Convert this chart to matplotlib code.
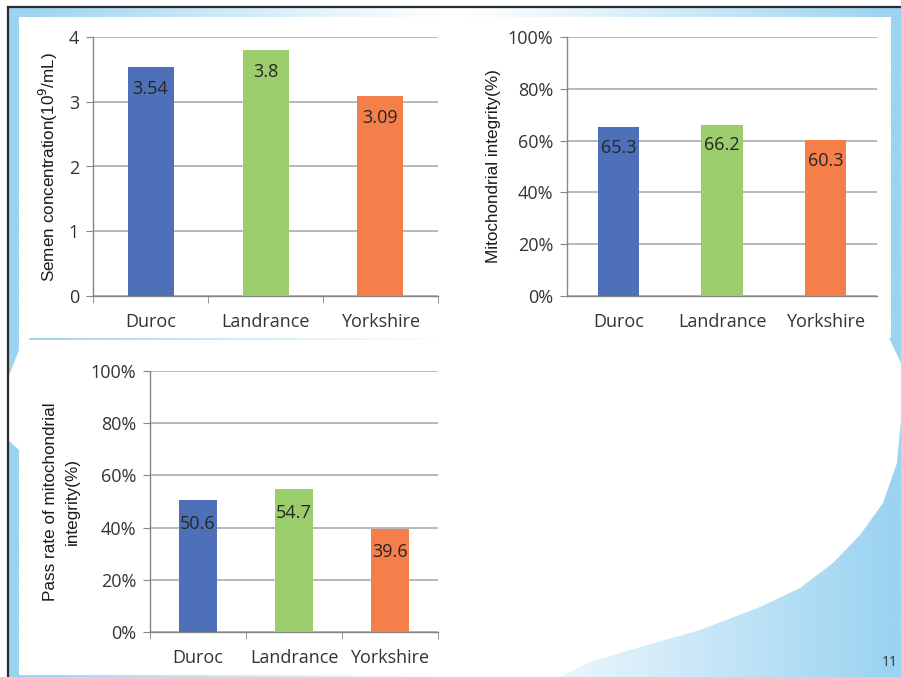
import numpy as np
import matplotlib
matplotlib.use("Agg")
import matplotlib.pyplot as plt
from matplotlib.patches import Rectangle, Polygon

# ---- data ----
breeds = ["Duroc", "Landrance", "Yorkshire"]
semen_conc = [3.54, 3.8, 3.09]
mito_integrity = [65.3, 66.2, 60.3]
pass_rate = [50.6, 54.7, 39.6]
conc_ticks = [0, 1, 2, 3, 4]
pct_ticks = [0, 20, 40, 60, 80, 100]
pct_labels = ["0%", "20%", "40%", "60%", "80%", "100%"]
bar_colors = ["#4e70b8", "#9ccd6c", "#f47f4b"]

W, H = 901, 677
fig = plt.figure(figsize=(W / 100, H / 100), dpi=100)
fig.patch.set_facecolor("white")

# ---- slide background ----
bg = fig.add_axes([0, 0, 1, 1], zorder=-10)
bg.set_xlim(0, W)
bg.set_ylim(H, 0)
bg.axis("off")
blue = np.array([155, 211, 241]) / 255.0
xs = np.arange(W)
t = np.clip(np.abs(xs - 450) / 440.0, 0, 1) ** 1.1
row = (1 - t)[:, None] * np.ones(3) + t[:, None] * blue
img = np.repeat(row[None, :, :], 2, axis=0)
bg.imshow(img, extent=(8, W, H, 7), aspect="auto", zorder=0)
# white chart boxes
for (x0, y0, x1, y1) in [(19, 17, 450, 338), (450, 17, 891, 338), (19, 340, 450, 675)]:
    bg.add_patch(Rectangle((x0, y0), x1 - x0, y1 - y0, facecolor="white",
                           edgecolor="none", zorder=1))
# decorative white areas
bg.add_patch(Polygon([(8, 378), (19, 350), (30, 338), (19, 338), (19, 450), (8, 440)],
                     closed=True, facecolor="white", edgecolor="none", zorder=1))
bg.add_patch(Rectangle((8, 378), 11, 62, facecolor="white", edgecolor="none", zorder=1))
shape = [(440, 338), (889, 338), (901, 363), (901, 420), (897, 463), (883, 503),
         (860, 535), (833, 563), (800, 588), (760, 607), (700, 630), (623, 652),
         (590, 662), (560, 677), (440, 677)]
bg.add_patch(Polygon(shape, closed=True, facecolor="white", edgecolor="none", zorder=1))
# slide borders
bg.plot([8, 8], [7, H], color="#2b2b2b", lw=1.6, zorder=3)
bg.plot([8, W], [7, 7], color="#2b2b2b", lw=1.6, zorder=3)
bg.text(890, 663, "11", fontsize=10, family="Open Sans", color="#333333",
        ha="center", va="center", zorder=3)

TICKFONT = "Open Sans"
LABFONT = "Liberation Sans"
grid_c = "#a6a6a6"
axis_c = "#868686"


def px_rect(x0, y0, x1, y1):
    return [x0 / W, 1 - y1 / H, (x1 - x0) / W, (y1 - y0) / H]


def make_chart(rect, values, ylim, ticks, ticklabels, ylabel, xticks_marks, label_off):
    ax = fig.add_axes(px_rect(*rect))
    ax.set_facecolor("none")
    x = np.arange(len(breeds))
    ax.bar(x, values, width=0.4, color=bar_colors, zorder=3)
    for xi, v in zip(x, values):
        ax.annotate(f"{v:g}", (xi, v), xytext=(0, label_off), textcoords="offset points",
                    ha="center", va="center", fontsize=13, family=TICKFONT,
                    color="#262626", zorder=4)
    ax.set_xlim(-0.5, 2.5)
    ax.set_ylim(*ylim)
    ax.set_yticks(ticks)
    ax.set_yticklabels(ticklabels)
    ax.set_xticks(x)
    ax.set_xticklabels(breeds)
    ax.set_xticks([-0.5, 0.5, 1.5, 2.5], minor=True)
    for s in ["top", "right"]:
        ax.spines[s].set_visible(False)
    for s in ["left", "bottom"]:
        ax.spines[s].set_color(axis_c)
        ax.spines[s].set_linewidth(1.0)
    ax.yaxis.grid(True, color=grid_c, lw=1.1, zorder=0)
    ax.set_axisbelow(True)
    ax.tick_params(axis="y", length=5, color=axis_c, pad=5, labelsize=13,
                   labelcolor="#333333")
    ax.tick_params(axis="x", which="major", length=0, pad=12, labelsize=13,
                   labelcolor="#333333")
    ax.tick_params(axis="x", which="minor", length=5 if xticks_marks else 0,
                   color=axis_c)
    for lab in ax.get_xticklabels() + ax.get_yticklabels():
        lab.set_family(TICKFONT)
    ax.set_ylabel(ylabel, fontsize=12.3, family=LABFONT, color="#1a1a1a",
                  linespacing=1.55)
    return ax


ax1 = make_chart((93, 37, 438, 296), semen_conc, (0, 4), conc_ticks,
                 [str(v) for v in conc_ticks], "Semen concentration(10$^9$/mL)", True, -16)
ax1.yaxis.set_label_coords(-0.096, 0.5)

ax2 = make_chart((567, 37, 877, 296), mito_integrity, (0, 100), pct_ticks, pct_labels,
                 "Mitochondrial integrity(%)", False, -15)
ax2.yaxis.set_label_coords(-0.213, 0.5)

ax3 = make_chart((150, 371, 438, 632), pass_rate, (0, 100), pct_ticks, pct_labels,
                 "Pass rate of mitochondrial\nintegrity(%)", True, -17)
ax3.yaxis.set_label_coords(-0.245, 0.5)

fig.savefig("out.png", dpi=100, facecolor=fig.get_facecolor())
